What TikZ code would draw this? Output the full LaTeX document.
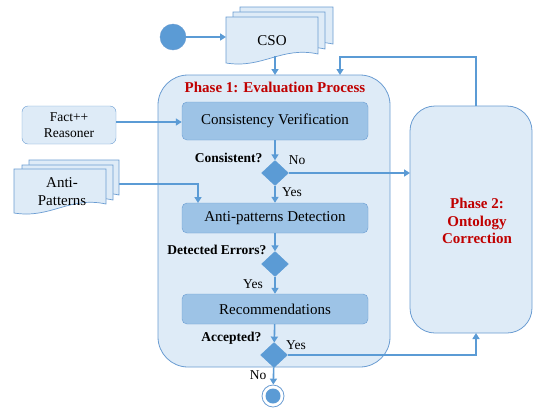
\documentclass[tikz,border=0pt]{standalone}
\usepackage{fontspec}
\setmainfont{Liberation Serif}
\usepackage{xcolor}
\definecolor{paleblue}{HTML}{DEEBF7}
\definecolor{stepblue}{HTML}{9DC3E6}
\definecolor{darkblue}{HTML}{5B9BD5}
\definecolor{edgeblue}{HTML}{6A9CD2}
\definecolor{phasered}{HTML}{C00000}
\usepackage{tikz}
\usetikzlibrary{positioning,arrows.meta,shapes.geometric,calc}

\tikzset{
  flow/.style={draw=darkblue, line width=1.6pt, -{Triangle[length=6pt,width=7pt]}},
  flowline/.style={draw=darkblue, line width=1.6pt},
  stepbox/.style={draw=edgeblue, fill=stepblue, rounded corners=5pt, minimum width=186pt,
                  font=\fontsize{15}{17}\selectfont},
  phasebox/.style={draw=edgeblue, fill=paleblue, line width=0.8pt},
  decision/.style={diamond, fill=darkblue, draw=darkblue, inner sep=0pt, minimum width=27pt, minimum height=25pt},
  asklabel/.style={font=\fontsize{13.5}{15}\selectfont\bfseries},
  anslabel/.style={font=\fontsize{13.5}{15}\selectfont},
  docline/.style={draw=edgeblue, fill=paleblue, line width=0.7pt},
}
% page with wavy bottom: x, y, width, height
\newcommand{\docpage}[4]{%
  \filldraw[docline] (#1,#2) -- ({#1+#3},#2) -- ({#1+#3},{#2+#4-9})
    .. controls ({#1+0.6*#3},{#2+#4-17}) and ({#1+0.4*#3},{#2+#4+6}) .. (#1,{#2+#4}) -- cycle;}

\begin{document}
\begin{tikzpicture}[x=1pt,y=-1pt]
\useasboundingbox (0,0) rectangle (534,410);

%%% containers
\filldraw[phasebox, rounded corners=30pt] (158,75) rectangle (390,367);
\node[text=phasered, font=\fontsize{15}{17}\selectfont\bfseries] (ph1) at (275,87) {Phase 1: Evaluation Process};
\filldraw[phasebox, rounded corners=25pt] (410,106) rectangle (532,333);
\node[text=phasered, font=\fontsize{15}{17.5}\selectfont\bfseries, align=center] (ph2) at (477,221) {Phase 2:\\Ontology\\Correction};
\coordinate (ph1top) at (275,75);
\coordinate (ph1back) at (340,75);
\coordinate (ph2top) at (476,106);
\coordinate (ph2left) at (410,173);
\coordinate (ph2bot) at (476,333);

%%% start
\node[circle, fill=darkblue, draw=edgeblue, minimum size=26pt, inner sep=0pt] (start) at (173,37) {};

%%% CSO documents
\docpage{240}{7}{93}{46}
\docpage{233}{12}{92}{46}
\docpage{226}{17}{92}{46}
\node[font=\fontsize{15}{17}\selectfont] (cso) at (272,41) {CSO};
\coordinate (csoin) at (226,37);
\coordinate (csoout) at (275,56);

%%% Anti-Patterns documents
\coordinate (apout) at (119,184);
\coordinate (apturn) at (198,184);
\draw[flow] (apout) -- (apturn) -- (198,203);
\docpage{29}{160}{90}{44}
\docpage{22}{165}{91}{44}
\docpage{14}{169}{92}{44}
\node[font=\fontsize{15}{18}\selectfont, align=center] (antip) at (62,192) {Anti-\\Patterns};

%%% reasoner
\node[draw=edgeblue, fill=paleblue, rounded corners=6pt, minimum width=94pt, minimum height=38pt,
      font=\fontsize{13.5}{16}\selectfont, align=center] (fact) at (69,125) {Fact++\\Reasoner};

%%% steps
\node[stepbox, minimum height=38pt] (verify) at (275,121) {Consistency Verification};
\node[decision] (q1) at (275,173) {};
\node[stepbox, minimum height=30pt] (detect) at (275,218) {Anti-patterns Detection};
\node[decision] (q2) at (275,264) {};
\node[stepbox, minimum height=30pt] (recom) at (275,309) {Recommendations};
\node[decision] (q3) at (274,355) {};

%%% end
\node[circle, draw=edgeblue, fill=white, line width=0.8pt, minimum size=22pt, inner sep=0pt] (stop) at (273,396) {};
\node[circle, fill=darkblue, minimum size=15pt, inner sep=0pt] at (stop) {};

%%% labels
\node[asklabel, anchor=east] (l1) at (266,158) {Consistent?};
\node[anslabel] (n1) at (297,160) {No};
\node[anslabel] (y1) at (292,192) {Yes};
\node[asklabel, anchor=east] (l2) at (270,250) {Detected Errors?};
\node[anslabel] (y2) at (253,284) {Yes};
\node[asklabel, anchor=east] (l3) at (265,338) {Accepted?};
\node[anslabel] (y3) at (296,345) {Yes};
\node[anslabel] (n3) at (258,375) {No};

%%% connectors
\draw[flow] (start) -- (csoin);
\draw[flow] (csoout) -- (ph1top);
\draw[flow] (ph2top) |- (340,57) -- (ph1back);
\draw[flow] (fact.east |- 0,122) -- (verify.west |- 0,122);
\draw[flow] (verify) -- (q1);
\draw[flow] (q1) -- (ph2left);
\draw[flow] (q1) -- (detect);
\draw[flow] (detect) -- (q2);
\draw[flow] (q2) -- (recom);
\draw[flow] (recom) -- (q3);
\draw[flow] (q3.east) -| (ph2bot);
\draw[flow] (q3) -- (stop);
\end{tikzpicture}
\end{document}
